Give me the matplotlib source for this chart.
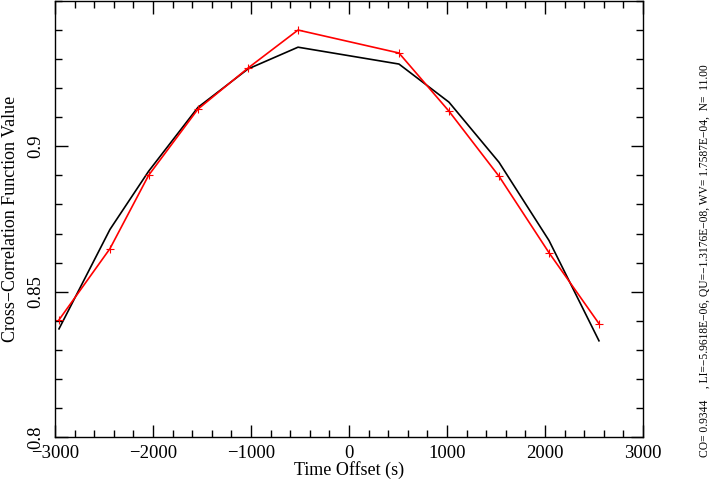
import matplotlib
matplotlib.use("Agg")
import matplotlib.pyplot as plt
from matplotlib.ticker import MultipleLocator, FixedLocator

# time offsets (s) and cross-correlation values
offsets = [-2959, -2439, -2045, -1541, -1031, -520, 510, 1020, 1531, 2041, 2551]
ccf_red = [0.8403, 0.8648, 0.8900, 0.9128, 0.9269, 0.9400, 0.9321, 0.9121, 0.8897, 0.8634, 0.8390]
ccf_black = [0.8372, 0.8714, 0.8914, 0.9134, 0.9266, 0.9341, 0.9283, 0.9152, 0.8945, 0.8676, 0.8331]

yticks = [0.8, 0.85, 0.9]
xticks = [-3000, -2000, -1000, 0, 1000, 2000, 3000]
info = "CO= 0.9344    , LI=\u22125.9618E\u221206, QU=\u22121.3176E\u221208, WV= 1.7587E\u221204,  N=  11.00"

plt.rcParams['font.family'] = ['Liberation Serif', 'DejaVu Serif']
plt.rcParams['axes.unicode_minus'] = True

fig = plt.figure(figsize=(7.13, 4.83), dpi=100)
ax = fig.add_axes([0.0771, 0.0952, 0.8247, 0.9028])

ax.plot(offsets, ccf_black, color='black', lw=1.2)
ax.plot(offsets, ccf_red, color='red', lw=1.2, marker='+', ms=6, mew=0.8)

ax.set_xlim(-3000, 3000)
ax.set_ylim(0.8, 0.95)
ax.xaxis.set_major_locator(FixedLocator(xticks))
ax.xaxis.set_minor_locator(MultipleLocator(200))
ax.yaxis.set_major_locator(FixedLocator(yticks))
ax.yaxis.set_minor_locator(MultipleLocator(0.01))
ax.set_xticklabels([str(t).replace('-', '\u2212') for t in xticks])
ax.set_yticklabels(['0.8', '0.85', '0.9'], rotation=90, va='center')

ax.tick_params(which='both', direction='in', top=True, right=True, width=1.0, labelsize=13.5)
ax.tick_params(which='major', length=9)
ax.tick_params(which='minor', length=5)
ax.tick_params(axis='x', pad=6)
ax.tick_params(axis='y', pad=8)
for s in ax.spines.values():
    s.set_linewidth(1.0)

ax.set_xlabel('Time Offset (s)', fontsize=13, labelpad=-1)
ax.set_ylabel('Cross\u2212Correlation Function Value', fontsize=13, labelpad=6)

fig.text(0.988, 0.46, info, rotation=90, ha='center', va='center', fontsize=8.3)

fig.savefig('out.png', dpi=100)
